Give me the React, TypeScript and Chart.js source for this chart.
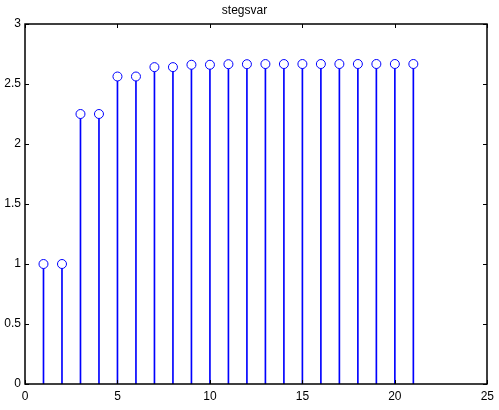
import React, { useEffect, useRef } from "react";
import { Chart, registerables } from "chart.js";

Chart.register(...registerables);

const chartTitle = "stegsvar";
const steps = [1, 2, 3, 4, 5, 6, 7, 8, 9, 10, 11, 12, 13, 14, 15, 16, 17, 18, 19, 20, 21];
const response = [
  1, 1, 2.25, 2.25, 2.5625, 2.5625, 2.6406, 2.6406, 2.6602, 2.6602, 2.665, 2.665,
  2.6663, 2.6663, 2.6665, 2.6665, 2.6666, 2.6666, 2.6667, 2.6667, 2.6667,
];
const xTicks = [0, 5, 10, 15, 20, 25];
const yTicks = [0, 0.5, 1, 1.5, 2, 2.5, 3];

const FONT = "'Liberation Sans', Arial, Helvetica, sans-serif";

const boxPlugin = {
  id: "matlabBox",
  afterDatasetsDraw(chart: any) {
    const { ctx, chartArea: a, scales } = chart;
    const x = scales.x;
    const y = scales.y;
    const L = Math.round(a.left);
    const R = Math.round(a.right);
    const T = Math.round(a.top);
    const B = Math.round(a.bottom);
    const tl = 4;
    ctx.save();
    ctx.strokeStyle = "#000";
    ctx.lineWidth = 1.5;
    ctx.beginPath();
    ctx.rect(L, T, R - L, B - T);
    ctx.stroke();
    ctx.lineWidth = 1;
    ctx.beginPath();
    for (const v of xTicks) {
      const px = Math.round(x.getPixelForValue(v)) + 0.5;
      ctx.moveTo(px, B);
      ctx.lineTo(px, B - tl);
      ctx.moveTo(px, T);
      ctx.lineTo(px, T + tl);
    }
    for (const v of yTicks) {
      const py = Math.round(y.getPixelForValue(v)) + 0.5;
      ctx.moveTo(L, py);
      ctx.lineTo(L + tl, py);
      ctx.moveTo(R, py);
      ctx.lineTo(R - tl, py);
    }
    ctx.stroke();
    ctx.restore();
  },
};

export default function App() {
  const ref = useRef<HTMLCanvasElement | null>(null);

  useEffect(() => {
    document.body.style.margin = "0";
    const canvas = ref.current;
    if (!canvas) return;
    const points = steps.map((s, i) => ({ x: s, y: response[i] }));
    const chart = new Chart(canvas, {
      type: "bar",
      data: {
        datasets: [
          {
            type: "scatter",
            data: points,
            pointStyle: "circle",
            pointRadius: 4.5,
            borderColor: "#0000ff",
            backgroundColor: "#ffffff",
            borderWidth: 1,
            showLine: false,
            order: 0,
          } as any,
          {
            type: "bar",
            data: points,
            backgroundColor: "#0000ff",
            barThickness: 1,
            order: 1,
          } as any,
        ],
      },
      options: {
        animation: false,
        responsive: false,
        maintainAspectRatio: false,
        events: [],
        layout: { padding: { left: 0, right: 10, top: 0, bottom: 0 } },
        plugins: {
          legend: { display: false },
          tooltip: { enabled: false },
          title: {
            display: true,
            text: chartTitle,
            color: "#000",
            font: { family: FONT, size: 12, weight: "normal" },
            padding: { top: 3, bottom: 6.6 },
          },
        },
        scales: {
          x: {
            type: "linear",
            min: 0,
            max: 25,
            offset: false,
            grid: { display: false, drawTicks: false },
            border: { display: false },
            afterBuildTicks: (s: any) => {
              s.ticks = xTicks.map((v) => ({ value: v }));
            },
            afterFit: (s: any) => {
              s.height = 26;
            },
            ticks: {
              color: "#000",
              font: { family: FONT, size: 12 },
              padding: 5,
              maxRotation: 0,
              autoSkip: false,
            },
          },
          y: {
            type: "linear",
            min: 0,
            max: 3,
            grid: { display: false, drawTicks: false },
            border: { display: false },
            afterBuildTicks: (s: any) => {
              s.ticks = yTicks.map((v) => ({ value: v }));
            },
            afterFit: (s: any) => {
              s.width = 25;
            },
            ticks: {
              color: "#000",
              font: { family: FONT, size: 12 },
              padding: 4,
              autoSkip: false,
              callback: (v: any) => String(v),
            },
          },
        },
      },
      plugins: [boxPlugin],
    });
    return () => chart.destroy();
  }, []);

  return (
    <div style={{ width: 499, height: 410, background: "#fff" }}>
      <canvas ref={ref} width={499} height={410} style={{ display: "block" }} />
    </div>
  );
}
